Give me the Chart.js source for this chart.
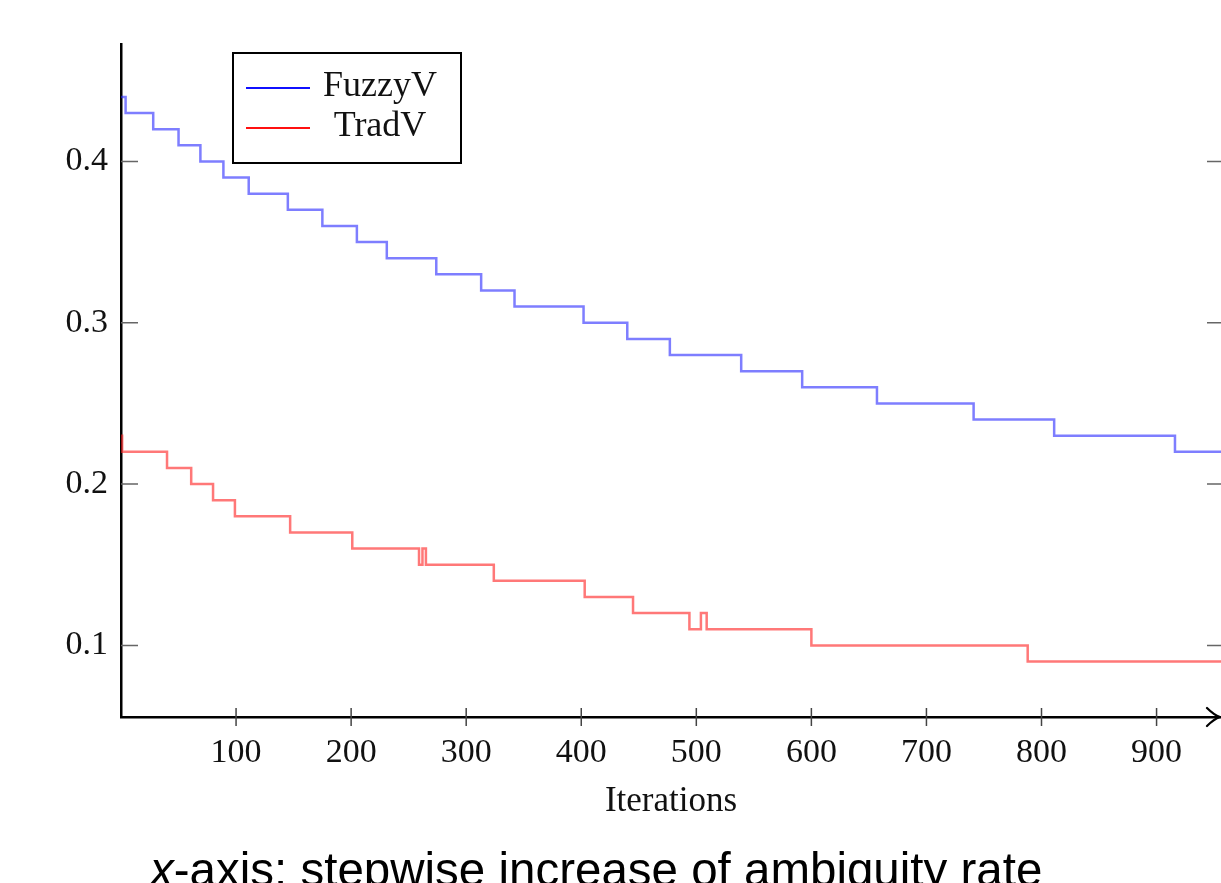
<!DOCTYPE html>
<html lang="en">
<head>
    <meta charset="UTF-8">
    <title>FuzzyV vs TradV</title>
    <script src="https://cdn.jsdelivr.net/npm/chart.js"></script>
    <style>
        html, body { margin: 0; padding: 0; background: #fff; overflow: hidden; }
        #wrap { position: relative; width: 1221px; height: 883px; }
        #caption {
            position: absolute; left: 150px; top: 846px;
            font-family: "Liberation Sans", Arial, sans-serif;
            font-size: 47.5px; line-height: 48px; color: #000; white-space: nowrap;
        }
    </style>
</head>
<body>
<div id="wrap">
    <canvas id="chart"></canvas>
    <div id="caption"><i>x</i>-axis: stepwise increase of ambiguity rate</div>
</div>
<script>
// step positions (iteration where the value changes) and values
const fuzzyX = [0, 4, 28, 50, 69, 89, 111, 145, 175, 205, 231, 274, 313, 342, 402, 440, 477, 539, 592, 657, 741, 811, 916, 956];
const fuzzyY = [0.44, 0.43, 0.42, 0.41, 0.40, 0.39, 0.38, 0.37, 0.36, 0.35, 0.34, 0.33, 0.32, 0.31, 0.30, 0.29, 0.28, 0.27, 0.26, 0.25, 0.24, 0.23, 0.22, 0.22];

const tradX = [0, 1, 40, 61, 80, 99, 147, 201, 259, 262, 265, 324, 403, 445, 494, 504, 509, 600, 788, 956];
const tradY = [0.23, 0.22, 0.21, 0.20, 0.19, 0.18, 0.17, 0.16, 0.15, 0.16, 0.15, 0.14, 0.13, 0.12, 0.11, 0.12, 0.11, 0.10, 0.09, 0.09];

const xTicks = [100, 200, 300, 400, 500, 600, 700, 800, 900];
const yTicks = [0.1, 0.2, 0.3, 0.4];
const seriesNames = ['FuzzyV', 'TradV'];

const serif = '"Liberation Serif", "DejaVu Serif", serif';

// axis ticks inside the plot, right-side ticks, arrow and legend box
const decorations = {
    id: 'decorations',
    afterDraw(chart) {
        const ctx = chart.ctx;
        const area = chart.chartArea;
        const xs = chart.scales.x, ys = chart.scales.y;
        ctx.save();
        ctx.lineWidth = 1.5;
        ctx.strokeStyle = '#666';
        yTicks.forEach(v => {
            const py = ys.getPixelForValue(v);
            ctx.beginPath();
            ctx.moveTo(area.left, py); ctx.lineTo(area.left + 17, py);
            ctx.moveTo(area.right - 14, py); ctx.lineTo(area.right, py);
            ctx.stroke();
        });
        ctx.strokeStyle = '#444';
        xTicks.forEach(v => {
            const px = xs.getPixelForValue(v);
            ctx.beginPath();
            ctx.moveTo(px, area.bottom - 9); ctx.lineTo(px, area.bottom + 9);
            ctx.stroke();
        });
        // arrow head on x axis
        const tipX = area.right - 1, tipY = area.bottom;
        ctx.strokeStyle = '#000';
        ctx.lineWidth = 2.2;
        ctx.lineCap = 'round';
        ctx.beginPath();
        ctx.moveTo(tipX - 13, tipY - 9);
        ctx.quadraticCurveTo(tipX - 6, tipY - 2, tipX, tipY);
        ctx.quadraticCurveTo(tipX - 6, tipY + 2, tipX - 13, tipY + 9);
        ctx.stroke();
        ctx.lineCap = 'butt';

        // legend
        const lx = 233, ly = 53, lw = 228, lh = 110;
        ctx.fillStyle = '#fff';
        ctx.fillRect(lx, ly, lw, lh);
        ctx.strokeStyle = '#000';
        ctx.lineWidth = 2;
        ctx.strokeRect(lx, ly, lw, lh);
        const legendColors = ['#1010ff', '#ff1010'];
        const rows = [88, 128];
        ctx.font = '36px ' + serif;
        ctx.textAlign = 'center';
        ctx.textBaseline = 'middle';
        chart.data.datasets.forEach((ds, i) => {
            ctx.strokeStyle = legendColors[i];
            ctx.lineWidth = 2;
            ctx.beginPath();
            ctx.moveTo(246, rows[i]); ctx.lineTo(310, rows[i]);
            ctx.stroke();
            ctx.fillStyle = '#111';
            ctx.fillText(ds.label, 380, rows[i] - 1);
        });
        ctx.restore();
    }
};

new Chart(document.getElementById('chart'), {
    type: 'line',
    data: {
        datasets: [{
            label: seriesNames[0],
            data: fuzzyX.map((x, i) => ({ x: x, y: fuzzyY[i] })),
            borderColor: 'rgba(40, 40, 255, 0.6)',
            borderWidth: 2.5,
            stepped: 'before',
            pointRadius: 0,
            fill: false
        }, {
            label: seriesNames[1],
            data: tradX.map((x, i) => ({ x: x, y: tradY[i] })),
            borderColor: 'rgba(255, 30, 30, 0.6)',
            borderWidth: 2.5,
            stepped: 'before',
            pointRadius: 0,
            fill: false
        }]
    },
    options: {
        responsive: true,
        maintainAspectRatio: false,
        animation: false,
        layout: { padding: { top: 44, right: 0, left: 0, bottom: 0 } },
        plugins: {
            legend: { display: false },
            tooltip: { enabled: false }
        },
        scales: {
            x: {
                type: 'linear',
                min: 0,
                max: 956,
                afterBuildTicks: s => { s.ticks = xTicks.map(v => ({ value: v })); },
                afterFit: s => { s.height = 166; },
                grid: { display: false, drawTicks: false },
                border: { display: true, color: '#000', width: 2.5 },
                ticks: {
                    color: '#111',
                    font: { family: serif, size: 34 },
                    padding: 16,
                    maxRotation: 0,
                    callback: v => String(v)
                },
                title: {
                    display: true,
                    text: 'Iterations',
                    color: '#111',
                    font: { family: serif, size: 35 },
                    padding: { top: 6, bottom: 60 }
                }
            },
            y: {
                type: 'linear',
                min: 0.0556,
                max: 0.4728,
                afterBuildTicks: s => { s.ticks = yTicks.map(v => ({ value: v })); },
                afterFit: s => { s.width = 121; },
                grid: { display: false, drawTicks: false },
                border: { display: true, color: '#000', width: 2.5 },
                ticks: {
                    color: '#111',
                    font: { family: serif, size: 34 },
                    padding: 13,
                    callback: v => v.toFixed(1)
                }
            }
        }
    },
    plugins: [decorations]
});
</script>
</body>
</html>
